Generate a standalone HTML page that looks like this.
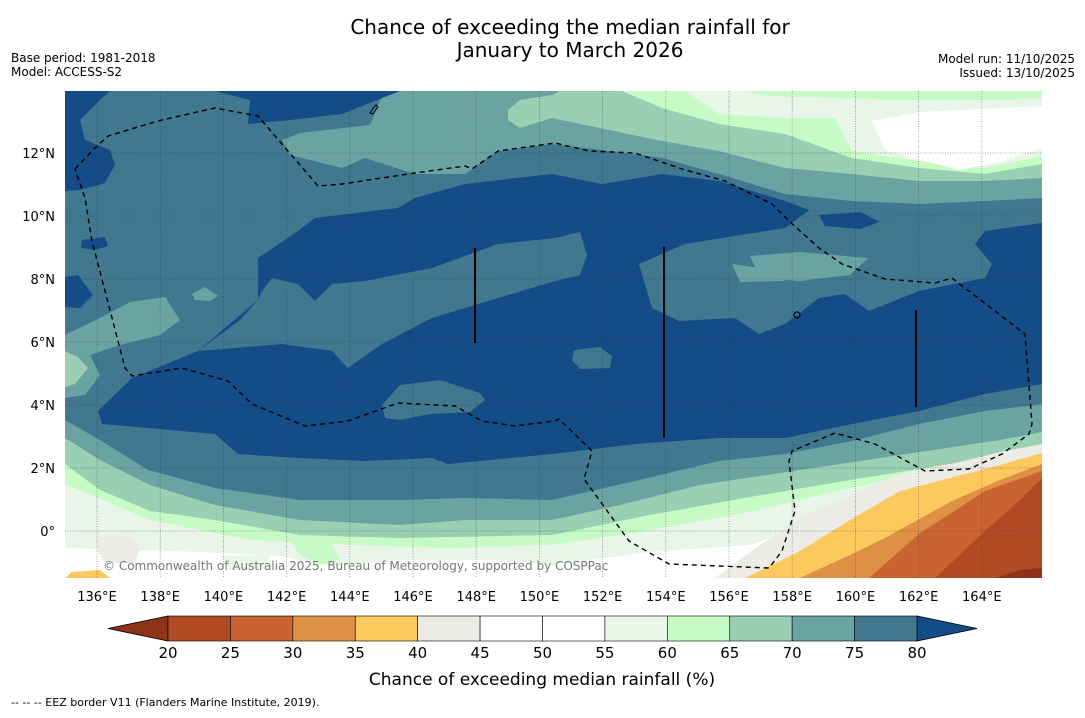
<!DOCTYPE html>
<html><head><meta charset="utf-8"><title>Chance of exceeding the median rainfall</title>
<style>
body{margin:0;background:#fff;width:1085px;height:713px;overflow:hidden;font-family:"Liberation Sans","DejaVu Sans",sans-serif}
svg text{font-family:"DejaVu Sans","Liberation Sans",sans-serif}
</style></head>
<body>
<svg id="chart" width="1085" height="713" viewBox="0 0 1085 713" xmlns="http://www.w3.org/2000/svg">
<rect width="1085" height="713" fill="#fff"/>
<text x="570" y="34" text-anchor="middle" font-size="20">Chance of exceeding the median rainfall for</text>
<text x="570" y="57" text-anchor="middle" font-size="20">January to March 2026</text>
<text x="11" y="62" font-size="12">Base period: 1981-2018</text>
<text x="11" y="76" font-size="12">Model: ACCESS-S2</text>
<text x="1075" y="63" font-size="12" text-anchor="end">Model run: 11/10/2025</text>
<text x="1075" y="77" font-size="12" text-anchor="end">Issued: 13/10/2025</text>

<defs><clipPath id="mapclip"><rect x="65" y="91" width="977" height="487"/></clipPath></defs>
<g clip-path="url(#mapclip)">
<rect x="65" y="91" width="977" height="487" fill="#41788f"/>
<!-- top bands -->
<polygon fill="#6ba3a3" points="390,91 380,100 370,125 300,133 282,140 290,155 342,168 365,158 415,174 465,174 498,151 552,144 602,150 662,158 719,174 785,194 852,201 919,204 985,201 1042,198 1042,91"/>
<polygon fill="#9acfb3" points="508,110 520,100 552,95 560,91 1042,91 1042,178 985,181 919,181 852,174 785,168 719,151 662,141 552,118 520,128 508,120"/>
<polygon fill="#c7fbc6" points="622,91 662,108 719,124 785,134 852,158 919,168 985,174 1042,164 1042,91"/>
<polygon fill="#eaf5ea" points="685,91 719,114 785,118 835,118 852,151 919,161 985,168 1042,156 1042,98 1000,100 900,100 770,96 740,91"/>
<polygon fill="#ffffff" points="872,121 920,112 1000,108 1042,106 1042,148 1000,162 960,170 920,160 885,150"/>
<!-- dark blue -->
<polygon fill="#144c88" points="102,424 98,411 132,378 198,351 258,300 258,258 298,231 315,218 398,208 415,198 465,184 552,174 602,184 662,174 719,181 785,201 812,211 900,215 1042,212 1042,384 985,394 919,411 852,424 785,438 719,438 635,444 552,454 448,464 432,458 365,461 298,458 238,454 215,434 148,428"/>
<polygon fill="#144c88" points="65,91 65,191 80,190 105,183 115,165 110,150 85,140 80,120 100,100 110,91"/>
<polygon fill="#144c88" points="215,91 250,100 248,124 290,120 342,114 400,91"/>
<polygon fill="#144c88" points="65,277 78,275 93,295 80,308 65,307"/>
<polygon fill="#144c88" points="82,240 105,237 108,246 95,250 81,248"/>
<!-- 75-80 intrusions -->
<polygon fill="#41788f" points="258,300 262,291 272,278 298,284 315,301 332,284 365,281 432,268 498,244 555,238 580,232 587,255 580,275 555,281 498,298 432,318 382,344 348,368 332,351 282,344 198,351 240,320"/>
<polygon fill="#41788f" points="812,208 900,215 1042,212 1042,223 985,231 975,244 992,264 985,278 919,291 869,311 845,294 819,298 785,324 759,334 735,318 679,321 652,308 639,264 685,244 785,228"/>
<polygon fill="#41788f" points="382,405 400,385 440,380 480,393 485,400 470,412 430,414 400,420 385,418"/>
<polygon fill="#41788f" points="574,350 600,347 612,356 610,368 580,369 572,360"/>
<polygon fill="#144c88" points="819,215 860,212 880,222 860,229 825,226"/>
<polygon fill="#6ba3a3" points="750,256 800,252 868,258 850,275 800,281 760,278"/>
<polygon fill="#6ba3a3" points="732,264 760,268 785,281 740,282"/>
<polygon fill="#6ba3a3" points="192,294 205,287 218,296 210,301 195,300"/>
<polygon fill="#6ba3a3" points="65,335 100,318 130,302 165,297 180,320 160,335 120,345 90,355 65,360"/>
<polygon fill="#6ba3a3" points="65,360 90,355 100,375 85,395 65,398"/>
<polygon fill="#9acfb3" points="65,351 78,357 88,368 75,384 65,387"/>
<!-- bottom bands -->
<polygon fill="#6ba3a3" points="65,420 100,440 148,470 215,488 300,500 400,500 465,498 552,500 635,481 719,461 785,454 852,441 919,424 985,411 1042,404 1042,578 65,578"/>
<polygon fill="#9acfb3" points="65,438 100,460 150,485 215,505 300,520 400,525 465,520 552,520 620,505 700,485 800,470 900,455 1000,440 1042,432 1042,578 65,578"/>
<polygon fill="#c7fbc6" points="65,464 100,490 150,511 215,520 300,535 400,538 552,535 650,515 750,497 850,480 950,464 1042,450 1042,578 65,578"/>
<polygon fill="#eaf5ea" points="65,484 150,520 250,540 350,545 450,548 552,545 650,530 750,512 850,488 950,470 1042,455 1042,578 65,578"/>
<polygon fill="#c7fbc6" points="290,540 330,542 340,560 320,565 300,555"/>
<polygon fill="#ffffff" points="65,548 200,552 280,556 330,566 400,560 500,560 552,565 650,552 750,545 820,520 900,495 1042,462 1042,578 65,578"/>
<polygon fill="#eaf5ea" points="220,556 270,555 265,568 230,570"/>
<polygon fill="#ecebe6" points="98,537 130,535 140,548 135,563 105,563 98,552"/>
<polygon fill="#ecebe6" points="715,578 760,545 800,518 850,495 900,474 960,462 1000,452 1042,444 1042,578"/>
<polygon fill="#fcc95f" points="745,578 800,551 850,520 900,491 950,478 1000,465 1042,453 1042,578"/>
<polygon fill="#fcc95f" points="65,578 72,572 100,570 110,578"/>
<polygon fill="#de9145" points="800,578 850,555 885,538 952,501 1000,480 1042,464 1042,578"/>
<polygon fill="#c96332" points="869,578 919,534 985,491 1042,471 1042,578"/>
<polygon fill="#b04a24" points="935,578 985,531 1020,500 1042,478 1042,578"/>
<polygon fill="#8e3218" points="995,578 1020,570 1042,568 1042,578"/>
<!-- grid -->
<g id="grid" stroke="#333" stroke-opacity="0.55" stroke-width="0.8" stroke-dasharray="1,1.5"></g>
<!-- EEZ -->
<polyline fill="none" stroke="#000" stroke-width="1.4" stroke-dasharray="5,4" points="75,169 95,148 108,136 158,121 215,108 258,116 282,144 318,186 342,184 415,173 465,166 472,169 498,151 555,143 589,151 635,153 682,169 725,181 772,204 789,221 819,248 842,264 885,279 935,283 952,278 1025,334 1032,424 1029,434 1002,454 969,469 925,471 875,444 835,433 792,451 789,461 795,511 782,551 769,568 669,564 629,541 584,479 592,451 559,419 555,421 515,426 482,421 455,406 398,403 348,421 305,426 252,404 228,381 182,368 132,376 125,368 92,241 85,198 75,169"/>
<line x1="475" y1="248" x2="475" y2="343" stroke="#000" stroke-width="2"/>
<line x1="664" y1="247" x2="664" y2="438" stroke="#000" stroke-width="2"/>
<line x1="916" y1="310" x2="916" y2="407" stroke="#000" stroke-width="2"/>
<circle cx="797" cy="315" r="3" fill="none" stroke="#000" stroke-width="1.2"/>
<path d="M370,113 l3,-5 l3,-3 l2,2 l-3,4 l-2,3 z" fill="none" stroke="#000" stroke-width="1"/>
<text x="103" y="570" font-size="12" fill="#777">© Commonwealth of Australia 2025, Bureau of Meteorology, supported by COSPPac</text>
</g>
<g id="axes"></g>
<g id="colorbar"></g>
<text x="542" y="685" text-anchor="middle" font-size="17">Chance of exceeding median rainfall (%)</text>
<text x="11" y="706" font-size="11">--  --  -- EEZ border V11 (Flanders Marine Institute, 2019).</text>
</svg>
<script>
var NS='http://www.w3.org/2000/svg';
var lonTicks=[136,138,140,142,144,146,148,150,152,154,156,158,160,162,164];
var latTicks=[0,2,4,6,8,10,12];
var binEdges=[20,25,30,35,40,45,50,55,60,65,70,75,80];
var binColors=['#b04a24','#c96332','#de9145','#fcc95f','#ecebe6','#ffffff','#ffffff','#eaf5ea','#c7fbc6','#9acfb3','#6ba3a3','#41788f'];
var underColor='#8e3218', overColor='#144c88';
function xLon(l){return 97+(l-136)*31.6;}
function yLat(l){return 531-l*31.5;}
function xBar(v){return 168+(v-20)*(917-168)/60;}
function mk(t,a,p){var e=document.createElementNS(NS,t);for(var k in a)e.setAttribute(k,a[k]);p.appendChild(e);return e;}
var grid=document.getElementById('grid'),axes=document.getElementById('axes'),cb=document.getElementById('colorbar');
lonTicks.forEach(function(l){
  var ln=mk('line',{x1:xLon(l),x2:xLon(l),y1:91,y2:578},grid);
  
  
  var t=mk('text',{x:xLon(l),y:601,'text-anchor':'middle','font-size':13},axes);
  t.textContent=l+'°E';
  
  
});
latTicks.forEach(function(l){
  var ln=mk('line',{x1:65,x2:1042,y1:yLat(l),y2:yLat(l)},grid);
  
  
  var t=mk('text',{x:55,y:yLat(l)+5,'text-anchor':'end','font-size':13},axes);
  t.textContent=l===0?'0°':l+'°N';
  
  
});
var y0=616,y1=641;
var u=mk('polygon',{points:'108,628.5 '+xBar(20)+','+y0+' '+xBar(20)+','+y1,fill:underColor,stroke:'#000','stroke-width':0.8},cb);


var o=mk('polygon',{points:'977,628.5 '+xBar(80)+','+y0+' '+xBar(80)+','+y1,fill:overColor,stroke:'#000','stroke-width':0.8},cb);


for(var i=0;i<binColors.length;i++){
  var r=mk('rect',{x:xBar(binEdges[i]),y:y0,width:xBar(binEdges[i+1])-xBar(binEdges[i]),height:y1-y0,fill:binColors[i],stroke:'#000','stroke-width':0.6},cb);
  
  
}
binEdges.forEach(function(v){
  var t=mk('text',{x:xBar(v),y:658,'text-anchor':'middle','font-size':15},cb);
  t.textContent=v;
  
  
});
</script>
</body></html>
